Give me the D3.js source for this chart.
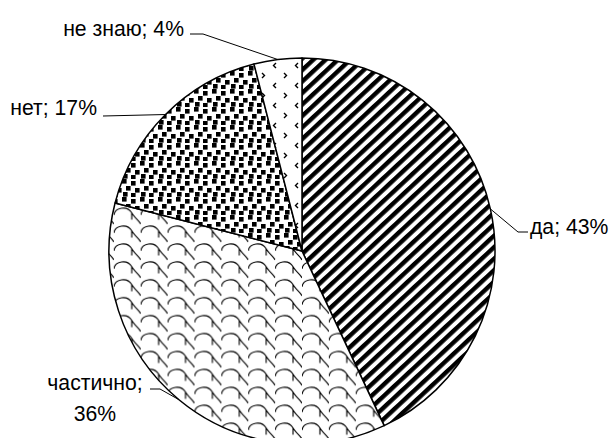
<!DOCTYPE html>
<html><head><meta charset="utf-8">
<script src="https://cdn.jsdelivr.net/npm/d3@7"></script>
<style>html,body{margin:0;padding:0;background:#fff;overflow:hidden}</style>
</head><body>
<svg id="chart" width="614" height="438"></svg>
<script>
const categories = ["да", "частично", "нет", "не знаю"];
const values = [43, 36, 17, 4];
const labelLines = [["да; 43%"], ["частично;", "36%"], ["нет; 17%"], ["не знаю; 4%"]];
const patterns = ["stripes", "scales", "confetti", "divot"];

const W = 614, H = 438, cx = 302, cy = 251, R = 193;
const svg = d3.select("#chart");
svg.append("rect").attr("width", W).attr("height", H).attr("fill", "#fff");
const defs = svg.append("defs");

// stripes (wide upward diagonal)
const pS = defs.append("pattern").attr("id", "stripes").attr("patternUnits", "userSpaceOnUse")
  .attr("width", 8.4).attr("height", 8.4).attr("patternTransform", "rotate(-43)");
pS.append("rect").attr("width", 8.4).attr("height", 8.4).attr("fill", "#fff");
pS.append("rect").attr("width", 8.4).attr("height", 4.4).attr("fill", "#000");

// scales (shingle-like humps descending to the right)
const pC = defs.append("pattern").attr("id", "scales").attr("patternUnits", "userSpaceOnUse")
  .attr("width", 24).attr("height", 16).attr("patternTransform", "scale(1.12)");
pC.append("rect").attr("width", 24).attr("height", 16).attr("fill", "#fff");
const hump = oy => `M0,${oy} C1,${oy-7} 12,${oy-9} 16,${oy-2} C19,${oy+3} 22,${oy+4} 24,${oy+8}`;
pC.append("path").attr("d", [-16, 0, 16].map(hump).join(" ") +
  " M16,-2 L16,4 M16,14 L16,20")
  .attr("fill", "none").attr("stroke", "#000").attr("stroke-width", 1);

// large confetti
const pF = defs.append("pattern").attr("id", "confetti").attr("patternUnits", "userSpaceOnUse")
  .attr("width", 18).attr("height", 18);
pF.append("rect").attr("width", 18).attr("height", 18).attr("fill", "#fff");
[[0,0],[9,2],[4,7],[13,9],[1,13],[9,14]].forEach(([x,y]) =>
  pF.append("rect").attr("x", x).attr("y", y).attr("width", 4.6).attr("height", 4.6).attr("fill", "#000"));

// divot
const pD = defs.append("pattern").attr("id", "divot").attr("patternUnits", "userSpaceOnUse")
  .attr("width", 22).attr("height", 20);
pD.append("rect").attr("width", 22).attr("height", 20).attr("fill", "#fff");
pD.append("path").attr("d", "M4,2 L6.5,4.5 L4,7 M18,12 L15.5,14.5 L18,17")
  .attr("fill", "none").attr("stroke", "#000").attr("stroke-width", 1.4);

const pie = d3.pie().sort(null).value(d => d)(values);
const arc = d3.arc().innerRadius(0).outerRadius(R);
const g = svg.append("g").attr("transform", `translate(${cx},${cy})`);
g.selectAll("path.slice").data(pie).join("path").attr("class", "slice")
  .attr("d", arc).attr("fill", (d, i) => `url(#${patterns[i]})`)
  .attr("stroke", "#000").attr("stroke-width", 1.5).attr("stroke-linejoin", "round");

// label layout: leader elbow point, end point, text anchor
const layout = [
  {elbow: [518, 232], end: [528, 232], tx: 530, ty: 234, anchor: "start"},
  {elbow: [160, 389], end: [150, 389], tx: 95, ty: 390, anchor: "middle"},
  {elbow: [103, 116], end: [103, 116], tx: 97, ty: 115, anchor: "end"},
  {elbow: [203, 34], end: [190, 34], tx: 184, ty: 36, anchor: "end"}
];
pie.forEach((d, i) => {
  const a = (d.startAngle + d.endAngle) / 2;
  const p0 = [cx + R * Math.sin(a), cy - R * Math.cos(a)];
  const L = layout[i];
  svg.append("polyline").attr("points", [p0, L.elbow, L.end].map(p => p.join(",")).join(" "))
    .attr("fill", "none").attr("stroke", "#000").attr("stroke-width", 1);
  const t = svg.append("text").attr("font-family", "Liberation Sans, Arial, sans-serif")
    .attr("font-size", 21.2).attr("text-anchor", L.anchor).attr("fill", "#000");
  labelLines[i].forEach((s, k) => t.append("tspan").attr("x", L.tx).attr("y", L.ty + k * 31).text(s));
});
</script>
</body></html>
